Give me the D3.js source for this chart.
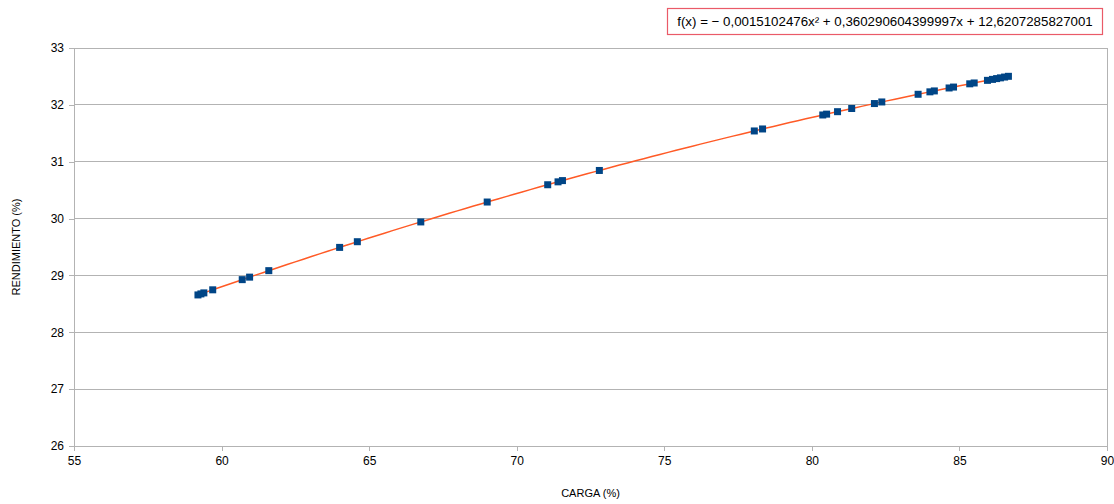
<!DOCTYPE html>
<html>
<head>
<meta charset="utf-8">
<script src="https://cdn.jsdelivr.net/npm/d3@7"></script>
<style>
  html, body { margin: 0; padding: 0; background: #ffffff; }
  svg { display: block; font-family: "Liberation Sans", Arial, sans-serif; }
</style>
</head>
<body>
<svg id="chart" width="1114" height="504"></svg>
<script>
// Load (%) measurements
const carga = [
  59.20, 59.30, 59.40, 59.70, 60.70, 60.95, 61.60, 64.00, 64.60, 66.75,
  69.00, 71.05, 71.40, 71.55, 72.80, 78.05, 78.33, 80.37, 80.50, 80.87,
  81.35, 82.12, 82.37, 83.60, 84.00, 84.15, 84.65, 84.80, 85.35, 85.50,
  85.95, 86.12, 86.26, 86.39, 86.53, 86.66
];
// Efficiency (%) measurements
const rendimiento = [
  28.657, 28.675, 28.693, 28.747, 28.926, 28.970, 29.084, 29.493, 29.593, 29.941,
  30.291, 30.595, 30.646, 30.668, 30.846, 31.541, 31.576, 31.822, 31.837, 31.880,
  31.936, 32.023, 32.051, 32.186, 32.229, 32.245, 32.297, 32.313, 32.370, 32.385,
  32.431, 32.448, 32.462, 32.475, 32.489, 32.502
];
// Quadratic trend line coefficients: a·x² + b·x + c
const trendCoef = [-0.0015102476, 0.360290604399997, 12.6207285827001];
const trendLabel = "f(x) = \u2212 0,0015102476x\u00b2 + 0,360290604399997x + 12,6207285827001";

const xTicks = [55, 60, 65, 70, 75, 80, 85, 90];
const yTicks = [26, 27, 28, 29, 30, 31, 32, 33];
const xTitle = "CARGA (%)";
const yTitle = "RENDIMIENTO (%)";

const svg = d3.select("#chart");
const plot = { left: 74, right: 1107, top: 48, bottom: 446 };

const x = d3.scaleLinear().domain([55, 90]).range([plot.left, plot.right]);
const y = d3.scaleLinear().domain([26, 33]).range([plot.bottom, plot.top]);

const gridColor = "#b3b3b3";

// Horizontal grid lines
svg.append("g")
  .selectAll("line")
  .data(yTicks)
  .join("line")
  .attr("x1", plot.left).attr("x2", plot.right)
  .attr("y1", d => y(d)).attr("y2", d => y(d))
  .attr("stroke", gridColor).attr("stroke-width", 1)
  .attr("shape-rendering", "crispEdges");

// Right edge of the plot wall
svg.append("line")
  .attr("x1", plot.right).attr("x2", plot.right)
  .attr("y1", plot.top).attr("y2", plot.bottom)
  .attr("stroke", gridColor).attr("shape-rendering", "crispEdges");

// X axis
const xAxis = svg.append("g")
  .attr("transform", `translate(0,${plot.bottom})`)
  .call(d3.axisBottom(x).tickValues(xTicks).tickSize(5).tickPadding(5).tickFormat(d3.format("d")));
// Y axis
const yAxis = svg.append("g")
  .attr("transform", `translate(${plot.left},0)`)
  .call(d3.axisLeft(y).tickValues(yTicks).tickSize(5).tickPadding(5).tickFormat(d3.format("d")));

[xAxis, yAxis].forEach(g => {
  g.select(".domain").attr("stroke", gridColor).attr("shape-rendering", "crispEdges");
  g.selectAll(".tick line").attr("stroke", gridColor).attr("shape-rendering", "crispEdges");
  g.selectAll(".tick text")
    .attr("fill", "#000").attr("font-size", 12)
    .attr("font-family", "Liberation Sans, Arial, sans-serif");
});

// Trend line over the range of the data
const trend = v => trendCoef[0] * v * v + trendCoef[1] * v + trendCoef[2];
const [xmin, xmax] = d3.extent(carga);
const trendPts = d3.range(0, 101).map(i => {
  const v = xmin + (xmax - xmin) * i / 100;
  return [v, trend(v)];
});
svg.append("path")
  .datum(trendPts)
  .attr("fill", "none")
  .attr("stroke", "#ff5a26")
  .attr("stroke-width", 1.5)
  .attr("d", d3.line().x(d => x(d[0])).y(d => y(d[1])));

// Data points (square markers)
const pts = carga.map((c, i) => [c, rendimiento[i]]);
const s = 7;
svg.append("g")
  .selectAll("rect")
  .data(pts)
  .join("rect")
  .attr("x", d => x(d[0]) - s / 2)
  .attr("y", d => y(d[1]) - s / 2)
  .attr("width", s).attr("height", s)
  .attr("fill", "#004586");

// Axis titles
svg.append("text")
  .attr("x", (plot.left + plot.right) / 2).attr("y", 497)
  .attr("text-anchor", "middle")
  .attr("font-size", 11).attr("fill", "#000")
  .text(xTitle);
svg.append("text")
  .attr("transform", `translate(20,${(plot.top + plot.bottom) / 2}) rotate(-90)`)
  .attr("text-anchor", "middle")
  .attr("font-size", 11).attr("fill", "#000")
  .text(yTitle);

// Trend equation box
const eq = svg.append("g");
eq.append("rect")
  .attr("x", 667.5).attr("y", 8.5)
  .attr("width", 435).attr("height", 26)
  .attr("fill", "#fff")
  .attr("stroke", "#ea5a68").attr("stroke-width", 1.2);
eq.append("text")
  .attr("x", 885).attr("y", 26)
  .attr("text-anchor", "middle")
  .attr("font-size", 13.3).attr("fill", "#000")
  .text(trendLabel);
</script>
</body>
</html>
